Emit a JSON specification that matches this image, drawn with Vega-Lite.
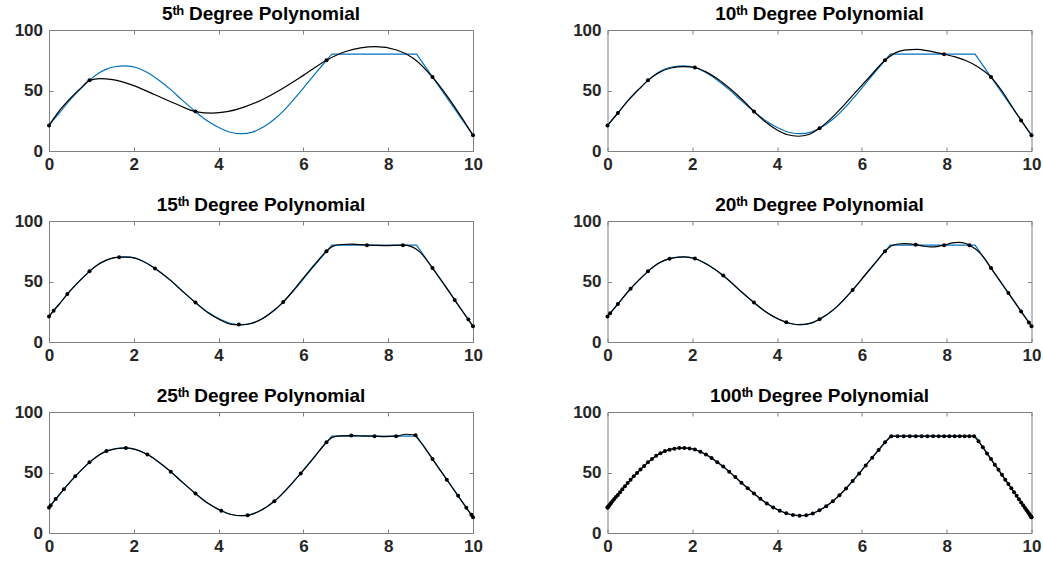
{
  "$schema": "https://vega.github.io/schema/vega-lite/v6.json",
  "background": "white",
  "padding": {"left": 13, "top": 4, "right": 5, "bottom": 5},
  "datasets": {
    "truth": [
      {"x": 0, "y": 21}, {"x": 0.109, "y": 25.9}, {"x": 0.245, "y": 31.4}, {"x": 0.432, "y": 39.6},
      {"x": 0.618, "y": 46.8}, {"x": 0.8, "y": 53.2}, {"x": 0.955, "y": 58.4}, {"x": 1.15, "y": 63.8},
      {"x": 1.355, "y": 67.7}, {"x": 1.55, "y": 69.6}, {"x": 1.8, "y": 70.4}, {"x": 2.061, "y": 69.0},
      {"x": 2.321, "y": 64.8}, {"x": 2.6, "y": 58.3}, {"x": 2.871, "y": 50.7}, {"x": 3.15, "y": 41.8},
      {"x": 3.455, "y": 32.6}, {"x": 3.75, "y": 24.5}, {"x": 4.063, "y": 18.4}, {"x": 4.3, "y": 15.3},
      {"x": 4.55, "y": 14.3}, {"x": 4.8, "y": 15.6}, {"x": 5.0, "y": 18.8}, {"x": 5.15, "y": 22},
      {"x": 5.314, "y": 26.2}, {"x": 5.523, "y": 33}, {"x": 5.782, "y": 43}, {"x": 6.06, "y": 54.6},
      {"x": 6.3, "y": 64.8}, {"x": 6.545, "y": 75}, {"x": 6.65, "y": 79.3}, {"x": 6.67, "y": 80},
      {"x": 8.67, "y": 80}, {"x": 8.69, "y": 79}, {"x": 10, "y": 13}
    ],
    "fit": [
      {"d": 5, "x": 0, "y": 21}, {"d": 5, "x": 0.25, "y": 33.5}, {"d": 5, "x": 0.5, "y": 43.5}, {"d": 5, "x": 0.75, "y": 52},
      {"d": 5, "x": 0.955, "y": 58.4}, {"d": 5, "x": 1.2, "y": 59.8}, {"d": 5, "x": 1.5, "y": 59}, {"d": 5, "x": 2.0, "y": 54},
      {"d": 5, "x": 2.5, "y": 46.5}, {"d": 5, "x": 3.0, "y": 38.8}, {"d": 5, "x": 3.455, "y": 32.6}, {"d": 5, "x": 3.85, "y": 31.3},
      {"d": 5, "x": 4.2, "y": 32.5}, {"d": 5, "x": 4.6, "y": 36.3}, {"d": 5, "x": 5.0, "y": 42}, {"d": 5, "x": 5.5, "y": 51.5},
      {"d": 5, "x": 6.0, "y": 62.5}, {"d": 5, "x": 6.545, "y": 75}, {"d": 5, "x": 7.0, "y": 82.2}, {"d": 5, "x": 7.7, "y": 86.2},
      {"d": 5, "x": 8.2, "y": 83.5}, {"d": 5, "x": 8.6, "y": 76.5}, {"d": 5, "x": 9.045, "y": 61.1}, {"d": 5, "x": 9.4, "y": 45},
      {"d": 5, "x": 9.7, "y": 29.5}, {"d": 5, "x": 10, "y": 13},

      {"d": 10, "x": 0, "y": 21}, {"d": 10, "x": 0.245, "y": 31.4}, {"d": 10, "x": 0.5, "y": 42.3}, {"d": 10, "x": 0.75, "y": 51.4},
      {"d": 10, "x": 0.955, "y": 58.4}, {"d": 10, "x": 1.2, "y": 64.5}, {"d": 10, "x": 1.5, "y": 68.6}, {"d": 10, "x": 1.8, "y": 69.7},
      {"d": 10, "x": 2.061, "y": 69}, {"d": 10, "x": 2.3, "y": 65.8}, {"d": 10, "x": 2.6, "y": 59.5}, {"d": 10, "x": 2.9, "y": 51.2},
      {"d": 10, "x": 3.2, "y": 41.7}, {"d": 10, "x": 3.455, "y": 32.6}, {"d": 10, "x": 3.7, "y": 24.8}, {"d": 10, "x": 4.0, "y": 17.4},
      {"d": 10, "x": 4.25, "y": 13.4}, {"d": 10, "x": 4.5, "y": 12.2}, {"d": 10, "x": 4.75, "y": 13.6}, {"d": 10, "x": 5.0, "y": 18.8},
      {"d": 10, "x": 5.3, "y": 27.8}, {"d": 10, "x": 5.6, "y": 38.8}, {"d": 10, "x": 5.9, "y": 50.5}, {"d": 10, "x": 6.2, "y": 62},
      {"d": 10, "x": 6.545, "y": 75}, {"d": 10, "x": 6.8, "y": 81.3}, {"d": 10, "x": 7.0, "y": 83.3}, {"d": 10, "x": 7.3, "y": 84},
      {"d": 10, "x": 7.6, "y": 82.5}, {"d": 10, "x": 7.939, "y": 80}, {"d": 10, "x": 8.2, "y": 77.8}, {"d": 10, "x": 8.45, "y": 74.8},
      {"d": 10, "x": 8.7, "y": 70.3}, {"d": 10, "x": 9.045, "y": 61.1}, {"d": 10, "x": 9.3, "y": 49.8}, {"d": 10, "x": 9.55, "y": 36.2},
      {"d": 10, "x": 9.755, "y": 25.3}, {"d": 10, "x": 10, "y": 13},

      {"d": 15, "x": 0, "y": 21}, {"d": 15, "x": 0.109, "y": 25.9}, {"d": 15, "x": 0.245, "y": 31.4}, {"d": 15, "x": 0.432, "y": 39.6},
      {"d": 15, "x": 0.618, "y": 46.8}, {"d": 15, "x": 0.8, "y": 53.2}, {"d": 15, "x": 0.955, "y": 58.4}, {"d": 15, "x": 1.15, "y": 63.8},
      {"d": 15, "x": 1.355, "y": 67.7}, {"d": 15, "x": 1.654, "y": 70.2}, {"d": 15, "x": 1.9, "y": 70.1}, {"d": 15, "x": 2.15, "y": 67.8},
      {"d": 15, "x": 2.5, "y": 60.8}, {"d": 15, "x": 2.871, "y": 50.9}, {"d": 15, "x": 3.15, "y": 42}, {"d": 15, "x": 3.455, "y": 32.6},
      {"d": 15, "x": 3.75, "y": 24.2}, {"d": 15, "x": 4.063, "y": 17.8}, {"d": 15, "x": 4.3, "y": 14.6}, {"d": 15, "x": 4.477, "y": 14.2},
      {"d": 15, "x": 4.7, "y": 14.9}, {"d": 15, "x": 5.0, "y": 18.6}, {"d": 15, "x": 5.25, "y": 24.6}, {"d": 15, "x": 5.523, "y": 33},
      {"d": 15, "x": 5.8, "y": 44.2}, {"d": 15, "x": 6.06, "y": 55.5}, {"d": 15, "x": 6.3, "y": 65.6}, {"d": 15, "x": 6.545, "y": 75},
      {"d": 15, "x": 6.7, "y": 79.2}, {"d": 15, "x": 6.9, "y": 80.6}, {"d": 15, "x": 7.15, "y": 80.9}, {"d": 15, "x": 7.5, "y": 80},
      {"d": 15, "x": 7.9, "y": 79.7}, {"d": 15, "x": 8.346, "y": 80}, {"d": 15, "x": 8.55, "y": 78.8}, {"d": 15, "x": 8.75, "y": 74.3},
      {"d": 15, "x": 9.045, "y": 61.1}, {"d": 15, "x": 9.3, "y": 48.6}, {"d": 15, "x": 9.568, "y": 34.8}, {"d": 15, "x": 9.75, "y": 25.4},
      {"d": 15, "x": 9.891, "y": 18.5}, {"d": 15, "x": 10, "y": 13},

      {"d": 20, "x": 0, "y": 21}, {"d": 20, "x": 0.062, "y": 23.7}, {"d": 20, "x": 0.245, "y": 31.4}, {"d": 20, "x": 0.545, "y": 44},
      {"d": 20, "x": 0.75, "y": 51.5}, {"d": 20, "x": 0.955, "y": 58.4}, {"d": 20, "x": 1.2, "y": 65}, {"d": 20, "x": 1.464, "y": 68.9},
      {"d": 20, "x": 1.8, "y": 70.4}, {"d": 20, "x": 2.061, "y": 69}, {"d": 20, "x": 2.4, "y": 63}, {"d": 20, "x": 2.73, "y": 55},
      {"d": 20, "x": 3.1, "y": 43.3}, {"d": 20, "x": 3.455, "y": 32.6}, {"d": 20, "x": 3.8, "y": 23.4}, {"d": 20, "x": 4.218, "y": 16.3},
      {"d": 20, "x": 4.5, "y": 14.3}, {"d": 20, "x": 4.8, "y": 15.6}, {"d": 20, "x": 5.0, "y": 18.8}, {"d": 20, "x": 5.4, "y": 28.8},
      {"d": 20, "x": 5.782, "y": 43}, {"d": 20, "x": 6.1, "y": 56.4}, {"d": 20, "x": 6.35, "y": 66.8}, {"d": 20, "x": 6.545, "y": 75},
      {"d": 20, "x": 6.7, "y": 79.5}, {"d": 20, "x": 6.85, "y": 81}, {"d": 20, "x": 7.0, "y": 81.3}, {"d": 20, "x": 7.27, "y": 80.4},
      {"d": 20, "x": 7.45, "y": 79.2}, {"d": 20, "x": 7.62, "y": 78.6}, {"d": 20, "x": 7.8, "y": 79.1}, {"d": 20, "x": 7.939, "y": 80},
      {"d": 20, "x": 8.1, "y": 81.7}, {"d": 20, "x": 8.28, "y": 82.3}, {"d": 20, "x": 8.45, "y": 81.4}, {"d": 20, "x": 8.536, "y": 80},
      {"d": 20, "x": 8.68, "y": 76.8}, {"d": 20, "x": 8.85, "y": 71}, {"d": 20, "x": 9.045, "y": 61.1}, {"d": 20, "x": 9.25, "y": 50.8},
      {"d": 20, "x": 9.455, "y": 40.4}, {"d": 20, "x": 9.755, "y": 25.3}, {"d": 20, "x": 9.938, "y": 16.1}, {"d": 20, "x": 10, "y": 13},

      {"d": 25, "x": 0, "y": 21}, {"d": 25, "x": 0.157, "y": 28}, {"d": 25, "x": 0.351, "y": 36.2}, {"d": 25, "x": 0.618, "y": 46.8},
      {"d": 25, "x": 0.955, "y": 58.4}, {"d": 25, "x": 1.355, "y": 67.7}, {"d": 25, "x": 1.813, "y": 70.3}, {"d": 25, "x": 2.321, "y": 64.8},
      {"d": 25, "x": 2.6, "y": 58.3}, {"d": 25, "x": 2.871, "y": 50.7}, {"d": 25, "x": 3.15, "y": 41.8}, {"d": 25, "x": 3.455, "y": 32.6},
      {"d": 25, "x": 3.75, "y": 24.5}, {"d": 25, "x": 4.063, "y": 18.4}, {"d": 25, "x": 4.3, "y": 15.3}, {"d": 25, "x": 4.55, "y": 14.3},
      {"d": 25, "x": 4.686, "y": 14.6}, {"d": 25, "x": 5.0, "y": 18.8}, {"d": 25, "x": 5.314, "y": 26.2}, {"d": 25, "x": 5.6, "y": 36},
      {"d": 25, "x": 5.937, "y": 49.2}, {"d": 25, "x": 6.25, "y": 62.3}, {"d": 25, "x": 6.545, "y": 75}, {"d": 25, "x": 6.68, "y": 79},
      {"d": 25, "x": 6.85, "y": 80.2}, {"d": 25, "x": 7.129, "y": 80.5}, {"d": 25, "x": 7.4, "y": 80.3}, {"d": 25, "x": 7.679, "y": 80},
      {"d": 25, "x": 7.93, "y": 79.6}, {"d": 25, "x": 8.187, "y": 80}, {"d": 25, "x": 8.42, "y": 81.6}, {"d": 25, "x": 8.6, "y": 81.2},
      {"d": 25, "x": 8.7, "y": 78}, {"d": 25, "x": 8.85, "y": 71.2}, {"d": 25, "x": 9.045, "y": 61.1}, {"d": 25, "x": 9.382, "y": 44.1},
      {"d": 25, "x": 9.649, "y": 30.7}, {"d": 25, "x": 9.843, "y": 20.9}, {"d": 25, "x": 10, "y": 13}
    ],
    "node": [
      {"d": 5, "x": 0, "y": 21}, {"d": 5, "x": 0.955, "y": 58.4}, {"d": 5, "x": 3.455, "y": 32.6}, {"d": 5, "x": 6.545, "y": 75},
      {"d": 5, "x": 9.045, "y": 61.1}, {"d": 5, "x": 10, "y": 13},

      {"d": 10, "x": 0, "y": 21}, {"d": 10, "x": 0.245, "y": 31.4}, {"d": 10, "x": 0.955, "y": 58.4}, {"d": 10, "x": 2.061, "y": 69},
      {"d": 10, "x": 3.455, "y": 32.6}, {"d": 10, "x": 5, "y": 18.8}, {"d": 10, "x": 6.545, "y": 75}, {"d": 10, "x": 7.939, "y": 80},
      {"d": 10, "x": 9.045, "y": 61.1}, {"d": 10, "x": 9.755, "y": 25.3}, {"d": 10, "x": 10, "y": 13},

      {"d": 15, "x": 0, "y": 21}, {"d": 15, "x": 0.109, "y": 25.9}, {"d": 15, "x": 0.432, "y": 39.6}, {"d": 15, "x": 0.955, "y": 58.4},
      {"d": 15, "x": 1.654, "y": 70.1}, {"d": 15, "x": 2.5, "y": 60.8}, {"d": 15, "x": 3.455, "y": 32.6}, {"d": 15, "x": 4.477, "y": 14.5},
      {"d": 15, "x": 5.523, "y": 33}, {"d": 15, "x": 6.545, "y": 75}, {"d": 15, "x": 7.5, "y": 80}, {"d": 15, "x": 8.346, "y": 80},
      {"d": 15, "x": 9.045, "y": 61.1}, {"d": 15, "x": 9.568, "y": 34.8}, {"d": 15, "x": 9.891, "y": 18.5}, {"d": 15, "x": 10, "y": 13},

      {"d": 20, "x": 0, "y": 21}, {"d": 20, "x": 0.062, "y": 23.7}, {"d": 20, "x": 0.245, "y": 31.4}, {"d": 20, "x": 0.545, "y": 44},
      {"d": 20, "x": 0.955, "y": 58.4}, {"d": 20, "x": 1.464, "y": 68.9}, {"d": 20, "x": 2.061, "y": 69}, {"d": 20, "x": 2.73, "y": 55},
      {"d": 20, "x": 3.455, "y": 32.6}, {"d": 20, "x": 4.218, "y": 16.3}, {"d": 20, "x": 5, "y": 18.8}, {"d": 20, "x": 5.782, "y": 43},
      {"d": 20, "x": 6.545, "y": 75}, {"d": 20, "x": 7.27, "y": 80.4}, {"d": 20, "x": 7.939, "y": 80}, {"d": 20, "x": 8.536, "y": 80},
      {"d": 20, "x": 9.045, "y": 61.1}, {"d": 20, "x": 9.455, "y": 40.4}, {"d": 20, "x": 9.755, "y": 25.3}, {"d": 20, "x": 9.938, "y": 16.1},
      {"d": 20, "x": 10, "y": 13},

      {"d": 25, "x": 0, "y": 21}, {"d": 25, "x": 0.039, "y": 22.7}, {"d": 25, "x": 0.157, "y": 28}, {"d": 25, "x": 0.351, "y": 36.2},
      {"d": 25, "x": 0.618, "y": 46.8}, {"d": 25, "x": 0.955, "y": 58.4}, {"d": 25, "x": 1.355, "y": 67.7}, {"d": 25, "x": 1.813, "y": 70.3},
      {"d": 25, "x": 2.321, "y": 64.8}, {"d": 25, "x": 2.871, "y": 50.7}, {"d": 25, "x": 3.455, "y": 32.6}, {"d": 25, "x": 4.063, "y": 18.4},
      {"d": 25, "x": 4.686, "y": 14.6}, {"d": 25, "x": 5.314, "y": 26.2}, {"d": 25, "x": 5.937, "y": 49.2}, {"d": 25, "x": 6.545, "y": 75},
      {"d": 25, "x": 7.129, "y": 80.5}, {"d": 25, "x": 7.679, "y": 80}, {"d": 25, "x": 8.187, "y": 80}, {"d": 25, "x": 8.645, "y": 80.8},
      {"d": 25, "x": 9.045, "y": 61.1}, {"d": 25, "x": 9.382, "y": 44.1}, {"d": 25, "x": 9.649, "y": 30.7}, {"d": 25, "x": 9.843, "y": 20.9},
      {"d": 25, "x": 9.961, "y": 15}, {"d": 25, "x": 10, "y": 13},

      {"d": 100, "x": 0, "y": 21}, {"d": 100, "x": 0.0025, "y": 21.1}, {"d": 100, "x": 0.0099, "y": 21.4}, {"d": 100, "x": 0.0222, "y": 22.0},
      {"d": 100, "x": 0.0394, "y": 22.7}, {"d": 100, "x": 0.0616, "y": 23.7}, {"d": 100, "x": 0.0886, "y": 24.9}, {"d": 100, "x": 0.1204, "y": 26.4},
      {"d": 100, "x": 0.1571, "y": 28.0}, {"d": 100, "x": 0.1986, "y": 29.7}, {"d": 100, "x": 0.2447, "y": 31.4}, {"d": 100, "x": 0.2956, "y": 33.7},
      {"d": 100, "x": 0.3511, "y": 36.2}, {"d": 100, "x": 0.4112, "y": 38.7}, {"d": 100, "x": 0.4758, "y": 41.3}, {"d": 100, "x": 0.545, "y": 44.0},
      {"d": 100, "x": 0.6184, "y": 46.8}, {"d": 100, "x": 0.6963, "y": 49.6}, {"d": 100, "x": 0.7784, "y": 52.5}, {"d": 100, "x": 0.8646, "y": 55.4},
      {"d": 100, "x": 0.9549, "y": 58.4}, {"d": 100, "x": 1.0492, "y": 61.2}, {"d": 100, "x": 1.1474, "y": 63.8}, {"d": 100, "x": 1.2495, "y": 66.0},
      {"d": 100, "x": 1.3552, "y": 67.7}, {"d": 100, "x": 1.4645, "y": 68.9}, {"d": 100, "x": 1.5773, "y": 69.7}, {"d": 100, "x": 1.6935, "y": 70.2},
      {"d": 100, "x": 1.8129, "y": 70.3}, {"d": 100, "x": 1.9355, "y": 69.9}, {"d": 100, "x": 2.0611, "y": 69.0}, {"d": 100, "x": 2.1896, "y": 67.2},
      {"d": 100, "x": 2.3209, "y": 64.8}, {"d": 100, "x": 2.4548, "y": 61.9}, {"d": 100, "x": 2.5912, "y": 58.5}, {"d": 100, "x": 2.73, "y": 55.0},
      {"d": 100, "x": 2.8711, "y": 50.7}, {"d": 100, "x": 3.0143, "y": 46.2}, {"d": 100, "x": 3.1594, "y": 41.5}, {"d": 100, "x": 3.3063, "y": 37.0},
      {"d": 100, "x": 3.4549, "y": 32.6}, {"d": 100, "x": 3.605, "y": 28.3}, {"d": 100, "x": 3.7566, "y": 24.4}, {"d": 100, "x": 3.9093, "y": 21.1},
      {"d": 100, "x": 4.0631, "y": 18.4}, {"d": 100, "x": 4.2178, "y": 16.3}, {"d": 100, "x": 4.3733, "y": 14.9}, {"d": 100, "x": 4.5294, "y": 14.3},
      {"d": 100, "x": 4.6861, "y": 14.6}, {"d": 100, "x": 4.843, "y": 16.1}, {"d": 100, "x": 5.0, "y": 18.8}, {"d": 100, "x": 5.157, "y": 22.1},
      {"d": 100, "x": 5.3139, "y": 26.2}, {"d": 100, "x": 5.4706, "y": 31.2}, {"d": 100, "x": 5.6267, "y": 36.8}, {"d": 100, "x": 5.7822, "y": 43.0},
      {"d": 100, "x": 5.9369, "y": 49.2}, {"d": 100, "x": 6.0907, "y": 55.8}, {"d": 100, "x": 6.2434, "y": 62.2}, {"d": 100, "x": 6.395, "y": 68.6},
      {"d": 100, "x": 6.5451, "y": 75.0}, {"d": 100, "x": 6.6937, "y": 80}, {"d": 100, "x": 6.8406, "y": 80}, {"d": 100, "x": 6.9857, "y": 80},
      {"d": 100, "x": 7.1289, "y": 80}, {"d": 100, "x": 7.27, "y": 80}, {"d": 100, "x": 7.4088, "y": 80}, {"d": 100, "x": 7.5452, "y": 80},
      {"d": 100, "x": 7.6791, "y": 80}, {"d": 100, "x": 7.8104, "y": 80}, {"d": 100, "x": 7.9389, "y": 80}, {"d": 100, "x": 8.0645, "y": 80},
      {"d": 100, "x": 8.1871, "y": 80}, {"d": 100, "x": 8.3065, "y": 80}, {"d": 100, "x": 8.4227, "y": 80}, {"d": 100, "x": 8.5355, "y": 80},
      {"d": 100, "x": 8.6448, "y": 80}, {"d": 100, "x": 8.7505, "y": 75.9}, {"d": 100, "x": 8.8526, "y": 70.8}, {"d": 100, "x": 8.9508, "y": 65.8},
      {"d": 100, "x": 9.0451, "y": 61.1}, {"d": 100, "x": 9.1354, "y": 56.5}, {"d": 100, "x": 9.2216, "y": 52.2}, {"d": 100, "x": 9.3037, "y": 48.1},
      {"d": 100, "x": 9.3816, "y": 44.1}, {"d": 100, "x": 9.455, "y": 40.4}, {"d": 100, "x": 9.5242, "y": 37.0}, {"d": 100, "x": 9.5888, "y": 33.7},
      {"d": 100, "x": 9.6489, "y": 30.7}, {"d": 100, "x": 9.7044, "y": 27.9}, {"d": 100, "x": 9.7553, "y": 25.3}, {"d": 100, "x": 9.8014, "y": 23.0},
      {"d": 100, "x": 9.8429, "y": 20.9}, {"d": 100, "x": 9.8796, "y": 19.0}, {"d": 100, "x": 9.9114, "y": 17.5}, {"d": 100, "x": 9.9384, "y": 16.1},
      {"d": 100, "x": 9.9606, "y": 15.0}, {"d": 100, "x": 9.9778, "y": 14.1}, {"d": 100, "x": 9.9901, "y": 13.5}, {"d": 100, "x": 9.9975, "y": 13.1},
      {"d": 100, "x": 10, "y": 13}
    ]
  },
  "columns": 2,
  "spacing": {"row": 70, "column": 134.5},
  "bounds": "flush",
  "concat": [
    {
      "title": "5ᵗʰ Degree Polynomial", "width": 424, "height": 121,
      "layer": [
        {"data": {"name": "truth"}, "mark": {"type": "line", "color": "#0072BD", "strokeWidth": 1.2, "interpolate": "monotone"},
         "encoding": {"x": {"field": "x", "type": "quantitative", "title": null, "scale": {"domain": [0, 10], "nice": false, "zero": false}, "axis": {"orient": "bottom", "values": [0, 2, 4, 6, 8, 10]}},
                      "y": {"field": "y", "type": "quantitative", "title": null, "scale": {"domain": [0, 100], "nice": false}, "axis": {"orient": "left", "values": [0, 50, 100]}}}},
        {"data": {"name": "fit"}, "transform": [{"filter": "datum.d == 5"}], "mark": {"type": "line", "color": "#000000", "strokeWidth": 1.2, "interpolate": "monotone"},
         "encoding": {"x": {"field": "x", "type": "quantitative", "title": null, "axis": {"orient": "top", "values": [0, 2, 4, 6, 8, 10], "labels": false}},
                      "y": {"field": "y", "type": "quantitative", "title": null, "axis": {"orient": "right", "values": [0, 50, 100], "labels": false}}}},
        {"data": {"name": "node"}, "transform": [{"filter": "datum.d == 5"}], "mark": {"type": "circle", "color": "#000000", "size": 16, "opacity": 1},
         "encoding": {"x": {"field": "x", "type": "quantitative", "axis": null}, "y": {"field": "y", "type": "quantitative", "axis": null}}}
      ],
      "resolve": {"axis": {"x": "independent", "y": "independent"}}
    },
    {
      "title": "10ᵗʰ Degree Polynomial", "width": 424, "height": 121,
      "layer": [
        {"data": {"name": "truth"}, "mark": {"type": "line", "color": "#0072BD", "strokeWidth": 1.2, "interpolate": "monotone"},
         "encoding": {"x": {"field": "x", "type": "quantitative", "title": null, "scale": {"domain": [0, 10], "nice": false, "zero": false}, "axis": {"orient": "bottom", "values": [0, 2, 4, 6, 8, 10]}},
                      "y": {"field": "y", "type": "quantitative", "title": null, "scale": {"domain": [0, 100], "nice": false}, "axis": {"orient": "left", "values": [0, 50, 100]}}}},
        {"data": {"name": "fit"}, "transform": [{"filter": "datum.d == 10"}], "mark": {"type": "line", "color": "#000000", "strokeWidth": 1.2, "interpolate": "monotone"},
         "encoding": {"x": {"field": "x", "type": "quantitative", "title": null, "axis": {"orient": "top", "values": [0, 2, 4, 6, 8, 10], "labels": false}},
                      "y": {"field": "y", "type": "quantitative", "title": null, "axis": {"orient": "right", "values": [0, 50, 100], "labels": false}}}},
        {"data": {"name": "node"}, "transform": [{"filter": "datum.d == 10"}], "mark": {"type": "circle", "color": "#000000", "size": 16, "opacity": 1},
         "encoding": {"x": {"field": "x", "type": "quantitative", "axis": null}, "y": {"field": "y", "type": "quantitative", "axis": null}}}
      ],
      "resolve": {"axis": {"x": "independent", "y": "independent"}}
    },
    {
      "title": "15ᵗʰ Degree Polynomial", "width": 424, "height": 121,
      "layer": [
        {"data": {"name": "truth"}, "mark": {"type": "line", "color": "#0072BD", "strokeWidth": 1.2, "interpolate": "monotone"},
         "encoding": {"x": {"field": "x", "type": "quantitative", "title": null, "scale": {"domain": [0, 10], "nice": false, "zero": false}, "axis": {"orient": "bottom", "values": [0, 2, 4, 6, 8, 10]}},
                      "y": {"field": "y", "type": "quantitative", "title": null, "scale": {"domain": [0, 100], "nice": false}, "axis": {"orient": "left", "values": [0, 50, 100]}}}},
        {"data": {"name": "fit"}, "transform": [{"filter": "datum.d == 15"}], "mark": {"type": "line", "color": "#000000", "strokeWidth": 1.2, "interpolate": "monotone"},
         "encoding": {"x": {"field": "x", "type": "quantitative", "title": null, "axis": {"orient": "top", "values": [0, 2, 4, 6, 8, 10], "labels": false}},
                      "y": {"field": "y", "type": "quantitative", "title": null, "axis": {"orient": "right", "values": [0, 50, 100], "labels": false}}}},
        {"data": {"name": "node"}, "transform": [{"filter": "datum.d == 15"}], "mark": {"type": "circle", "color": "#000000", "size": 16, "opacity": 1},
         "encoding": {"x": {"field": "x", "type": "quantitative", "axis": null}, "y": {"field": "y", "type": "quantitative", "axis": null}}}
      ],
      "resolve": {"axis": {"x": "independent", "y": "independent"}}
    },
    {
      "title": "20ᵗʰ Degree Polynomial", "width": 424, "height": 121,
      "layer": [
        {"data": {"name": "truth"}, "mark": {"type": "line", "color": "#0072BD", "strokeWidth": 1.2, "interpolate": "monotone"},
         "encoding": {"x": {"field": "x", "type": "quantitative", "title": null, "scale": {"domain": [0, 10], "nice": false, "zero": false}, "axis": {"orient": "bottom", "values": [0, 2, 4, 6, 8, 10]}},
                      "y": {"field": "y", "type": "quantitative", "title": null, "scale": {"domain": [0, 100], "nice": false}, "axis": {"orient": "left", "values": [0, 50, 100]}}}},
        {"data": {"name": "fit"}, "transform": [{"filter": "datum.d == 20"}], "mark": {"type": "line", "color": "#000000", "strokeWidth": 1.2, "interpolate": "monotone"},
         "encoding": {"x": {"field": "x", "type": "quantitative", "title": null, "axis": {"orient": "top", "values": [0, 2, 4, 6, 8, 10], "labels": false}},
                      "y": {"field": "y", "type": "quantitative", "title": null, "axis": {"orient": "right", "values": [0, 50, 100], "labels": false}}}},
        {"data": {"name": "node"}, "transform": [{"filter": "datum.d == 20"}], "mark": {"type": "circle", "color": "#000000", "size": 16, "opacity": 1},
         "encoding": {"x": {"field": "x", "type": "quantitative", "axis": null}, "y": {"field": "y", "type": "quantitative", "axis": null}}}
      ],
      "resolve": {"axis": {"x": "independent", "y": "independent"}}
    },
    {
      "title": "25ᵗʰ Degree Polynomial", "width": 424, "height": 121,
      "layer": [
        {"data": {"name": "truth"}, "mark": {"type": "line", "color": "#0072BD", "strokeWidth": 1.2, "interpolate": "monotone"},
         "encoding": {"x": {"field": "x", "type": "quantitative", "title": null, "scale": {"domain": [0, 10], "nice": false, "zero": false}, "axis": {"orient": "bottom", "values": [0, 2, 4, 6, 8, 10]}},
                      "y": {"field": "y", "type": "quantitative", "title": null, "scale": {"domain": [0, 100], "nice": false}, "axis": {"orient": "left", "values": [0, 50, 100]}}}},
        {"data": {"name": "fit"}, "transform": [{"filter": "datum.d == 25"}], "mark": {"type": "line", "color": "#000000", "strokeWidth": 1.2, "interpolate": "monotone"},
         "encoding": {"x": {"field": "x", "type": "quantitative", "title": null, "axis": {"orient": "top", "values": [0, 2, 4, 6, 8, 10], "labels": false}},
                      "y": {"field": "y", "type": "quantitative", "title": null, "axis": {"orient": "right", "values": [0, 50, 100], "labels": false}}}},
        {"data": {"name": "node"}, "transform": [{"filter": "datum.d == 25"}], "mark": {"type": "circle", "color": "#000000", "size": 16, "opacity": 1},
         "encoding": {"x": {"field": "x", "type": "quantitative", "axis": null}, "y": {"field": "y", "type": "quantitative", "axis": null}}}
      ],
      "resolve": {"axis": {"x": "independent", "y": "independent"}}
    },
    {
      "title": "100ᵗʰ Degree Polynomial", "width": 424, "height": 121,
      "layer": [
        {"data": {"name": "truth"}, "mark": {"type": "line", "color": "#0072BD", "strokeWidth": 1.2, "interpolate": "monotone"},
         "encoding": {"x": {"field": "x", "type": "quantitative", "title": null, "scale": {"domain": [0, 10], "nice": false, "zero": false}, "axis": {"orient": "bottom", "values": [0, 2, 4, 6, 8, 10]}},
                      "y": {"field": "y", "type": "quantitative", "title": null, "scale": {"domain": [0, 100], "nice": false}, "axis": {"orient": "left", "values": [0, 50, 100]}}}},
        {"data": {"name": "node"}, "transform": [{"filter": "datum.d == 100"}], "mark": {"type": "line", "color": "#000000", "strokeWidth": 1.2},
         "encoding": {"x": {"field": "x", "type": "quantitative", "title": null, "axis": {"orient": "top", "values": [0, 2, 4, 6, 8, 10], "labels": false}},
                      "y": {"field": "y", "type": "quantitative", "title": null, "axis": {"orient": "right", "values": [0, 50, 100], "labels": false}}}},
        {"data": {"name": "node"}, "transform": [{"filter": "datum.d == 100"}], "mark": {"type": "circle", "color": "#000000", "size": 16, "opacity": 1},
         "encoding": {"x": {"field": "x", "type": "quantitative", "axis": null}, "y": {"field": "y", "type": "quantitative", "axis": null}}}
      ],
      "resolve": {"axis": {"x": "independent", "y": "independent"}}
    }
  ],
  "config": {
    "view": {"stroke": "#808080", "strokeWidth": 1},
    "axis": {"domain": false, "grid": false, "tickSize": -4, "tickColor": "#808080", "tickWidth": 1,
             "labelFont": "Liberation Sans", "labelFontSize": 17, "labelFontWeight": "bold", "labelColor": "#262626",
             "labelFlush": false, "labelPadding": 10.5},
    "axisX": {"labelPadding": 9.5},
    "title": {"font": "Liberation Sans, DejaVu Sans", "fontSize": 19, "fontWeight": "bold", "color": "#000000", "offset": -3, "anchor": "middle"}
  }
}
